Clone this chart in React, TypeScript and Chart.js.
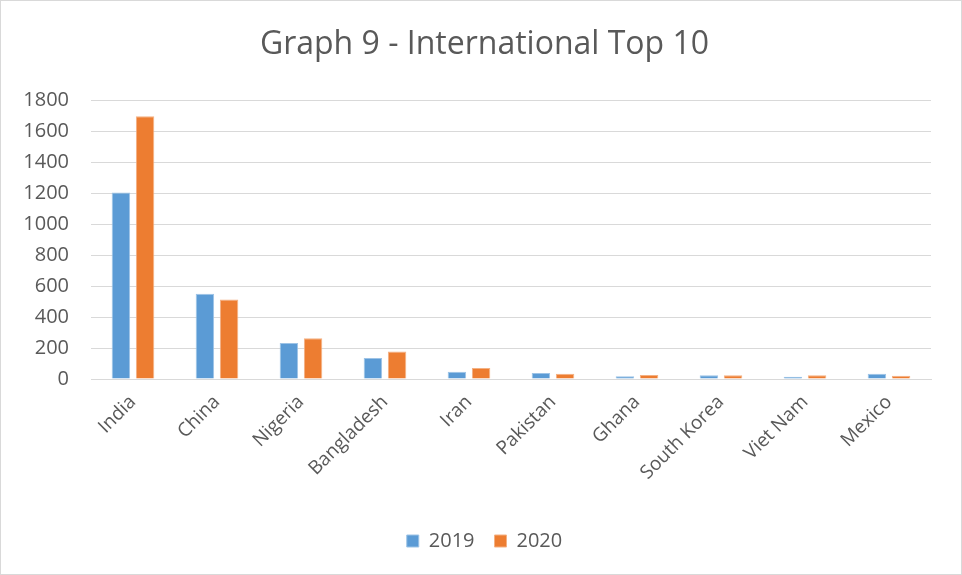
import React, { useEffect, useRef } from "react";
import { Chart, registerables } from "chart.js";

Chart.register(...registerables);

const categories = ["India", "China", "Nigeria", "Bangladesh", "Iran", "Pakistan", "Ghana", "South Korea", "Viet Nam", "Mexico"];
const values2019 = [1205, 550, 233, 135, 47, 39, 17, 24, 15, 34];
const values2020 = [1697, 513, 263, 178, 71, 34, 26, 24, 24, 21];
const yTicks = [0, 200, 400, 600, 800, 1000, 1200, 1400, 1600, 1800];

const FONT = "'Open Sans', sans-serif";
const TEXT = "#595959";

export default function App() {
  const ref = useRef<HTMLCanvasElement | null>(null);
  useEffect(() => {
    document.body.style.margin = "0";
    const ctx = ref.current!;
    const chart = new Chart(ctx, {
      type: "bar",
      data: {
        labels: categories,
        datasets: [
          { label: "2019", data: values2019, backgroundColor: "#5B9BD5", borderColor: "#9DC3E6", borderWidth: 1, categoryPercentage: 0.575, barPercentage: 0.765 },
          { label: "2020", data: values2020, backgroundColor: "#ED7D31", borderColor: "#F4B183", borderWidth: 1, categoryPercentage: 0.575, barPercentage: 0.765 },
        ],
      },
      options: {
        animation: false,
        responsive: false,
        layout: { padding: { left: 7, right: 0, top: 0, bottom: 13 } },
        plugins: {
          title: {
            display: true,
            text: "Graph 9 - International Top 10",
            color: TEXT,
            font: { family: FONT, size: 32, weight: "normal" },
            padding: { top: 25, bottom: 36 },
          },
          legend: {
            position: "bottom",
            labels: {
              color: TEXT,
              font: { family: FONT, size: 20 },
              boxWidth: 12,
              boxHeight: 12,
              padding: 20,
            },
          },
          tooltip: { enabled: false },
        },
        scales: {
          x: {
            grid: { display: false },
            border: { color: "#d9d9d9", width: 1 },
            ticks: {
              color: TEXT,
              font: { family: FONT, size: 19 },
              maxRotation: 45,
              minRotation: 45,
              padding: 4,
            },
            afterFit: (s: any) => { s.height = 132; },
          },
          y: {
            min: 0,
            max: 1800,
            afterBuildTicks: (s: any) => { s.ticks = yTicks.map((v) => ({ value: v })); },
            grid: { color: "#d9d9d9", lineWidth: 1, drawTicks: false },
            border: { display: false },
            ticks: {
              color: TEXT,
              font: { family: FONT, size: 20 },
              padding: 22,
              callback: (v: any) => String(v),
            },
            afterFit: (s: any) => { s.width = 83; },
          },
          yRight: {
            type: "linear",
            position: "right",
            display: true,
            grid: { display: false, drawTicks: false },
            border: { display: false },
            ticks: { display: false },
            afterFit: (s: any) => { s.width = 30; },
          },
        },
      },
    });
    return () => chart.destroy();
  }, []);
  return (
    <div style={{ width: 960, height: 573, border: "1px solid #d9d9d9", background: "#fff" }}>
      <canvas ref={ref} width={960} height={573} />
    </div>
  );
}
